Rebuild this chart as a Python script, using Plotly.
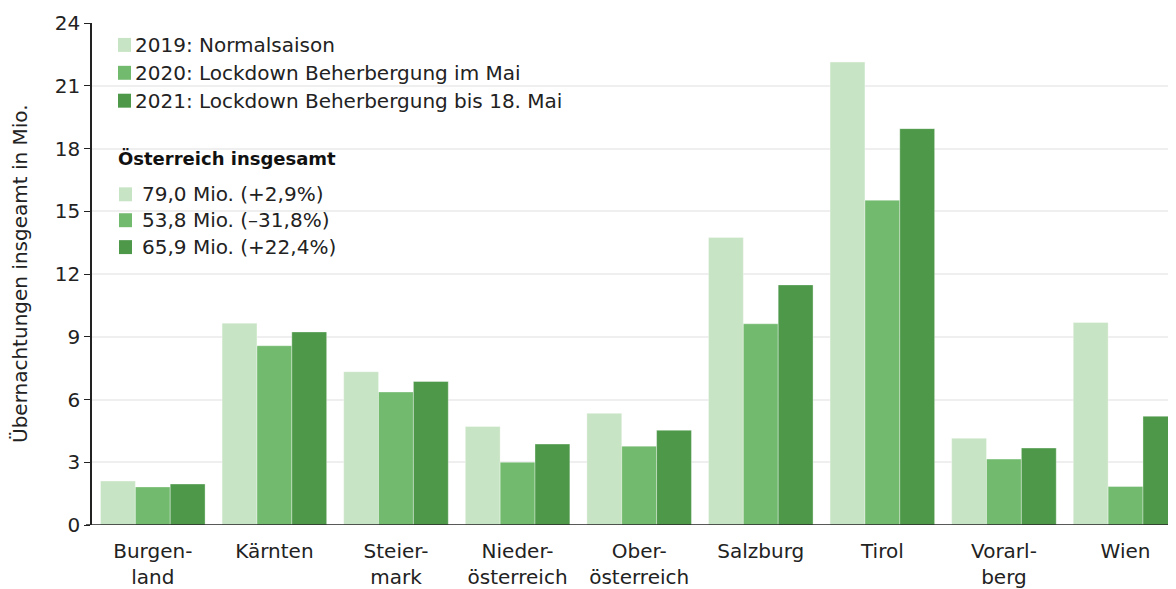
import plotly.graph_objects as go

categories = ["Burgen-<br>land", "Kärnten", "Steier-<br>mark", "Nieder-<br>österreich",
              "Ober-<br>österreich", "Salzburg", "Tirol", "Vorarl-<br>berg", "Wien"]
v2019 = [2.10, 9.65, 7.33, 4.71, 5.34, 13.75, 22.13, 4.15, 9.68]
v2020 = [1.82, 8.57, 6.36, 3.00, 3.77, 9.62, 15.53, 3.15, 1.84]
v2021 = [1.96, 9.23, 6.86, 3.87, 4.53, 11.48, 18.95, 3.68, 5.20]
series_names = ["2019: Normalsaison", "2020: Lockdown Beherbergung im Mai",
                "2021: Lockdown Beherbergung bis 18. Mai"]
total_labels = ["79,0 Mio. (+2,9%)", "53,8 Mio. (–31,8%)", "65,9 Mio. (+22,4%)"]
total_title = "Österreich insgesamt"
y_title = "Übernachtungen insgeamt in Mio."
colors = ["#c7e4c4", "#72ba6e", "#4d9849"]
yticks = [0, 3, 6, 9, 12, 15, 18, 21, 24]

FONT = "DejaVu Sans"
OFF = 8  # page body margin
W, H = 1176 - OFF, 589 - OFF
# plot area in page pixels: left 92, right 1176, top 23, bottom 527
L, T = 92 - OFF, 23 - OFF
R = 0
B = H - (527 - OFF)
PL, PR, PT, PB = 92, 1176, 23, 527


def px(x):
    return (x - PL) / (PR - PL)


def py(y):
    return (PB - y) / (PB - PT)


fig = go.Figure()
for name, vals, col in zip(series_names, [v2019, v2020, v2021], colors):
    fig.add_trace(go.Bar(x=categories, y=vals, name=name, marker_color=col,
                         marker_line_color="rgba(255,255,255,0.6)", marker_line_width=0.6))

shapes = []
annotations = []
rows1 = [45, 73, 101]
for name, col, yc in zip(series_names, colors, rows1):
    shapes.append(dict(type="rect", xref="paper", yref="paper",
                       x0=px(118), x1=px(131), y0=py(yc + 7), y1=py(yc - 7),
                       fillcolor=col, line_width=0))
    annotations.append(dict(xref="paper", yref="paper", x=px(133), y=py(yc),
                            xanchor="left", yanchor="middle", showarrow=False,
                            text=name, font=dict(family=FONT, size=20, color="#222")))
annotations.append(dict(xref="paper", yref="paper", x=px(116), y=py(159),
                        xanchor="left", yanchor="middle", showarrow=False,
                        text="<b>" + total_title + "</b>",
                        font=dict(family=FONT, size=18, color="#111")))
rows2 = [195, 221, 248]
for lab, col, yc in zip(total_labels, colors, rows2):
    shapes.append(dict(type="rect", xref="paper", yref="paper",
                       x0=px(119), x1=px(132), y0=py(yc + 7), y1=py(yc - 7),
                       fillcolor=col, line_width=0))
    annotations.append(dict(xref="paper", yref="paper", x=px(140), y=py(yc),
                            xanchor="left", yanchor="middle", showarrow=False,
                            text=lab, font=dict(family=FONT, size=20, color="#222")))
annotations.append(dict(xref="paper", yref="paper", x=px(20), y=py(275),
                        xanchor="center", yanchor="middle", showarrow=False,
                        textangle=-90, text=y_title,
                        font=dict(family=FONT, size=20, color="#222")))
shapes.append(dict(type="line", xref="paper", yref="y", x0=px(86), x1=1, y0=0, y1=0,
                   line=dict(color="#222", width=1.5)))

fig.update_layout(
    width=W, height=H,
    margin=dict(l=L, r=R, t=T, b=B, pad=0),
    paper_bgcolor="white", plot_bgcolor="white",
    barmode="group", bargap=0.14, bargroupgap=0,
    showlegend=False,
    shapes=shapes, annotations=annotations,
    font=dict(family=FONT, size=20, color="#222"),
)
fig.update_xaxes(range=[-0.5, 8.415], showgrid=False, showline=False,
                 ticks="outside", ticklen=8, tickcolor="rgba(0,0,0,0)",
                 tickfont=dict(family=FONT, size=20, color="#222"), fixedrange=True)
fig.update_yaxes(range=[0, 24], tickvals=yticks, showgrid=True, gridcolor="#efefef",
                 gridwidth=1.5, showline=True, linecolor="#222", linewidth=1.5,
                 ticks="outside", ticklen=6, tickcolor="#222", zeroline=False,
                 tickfont=dict(family=FONT, size=20, color="#222"), fixedrange=True)

fig.write_html("out.html")
